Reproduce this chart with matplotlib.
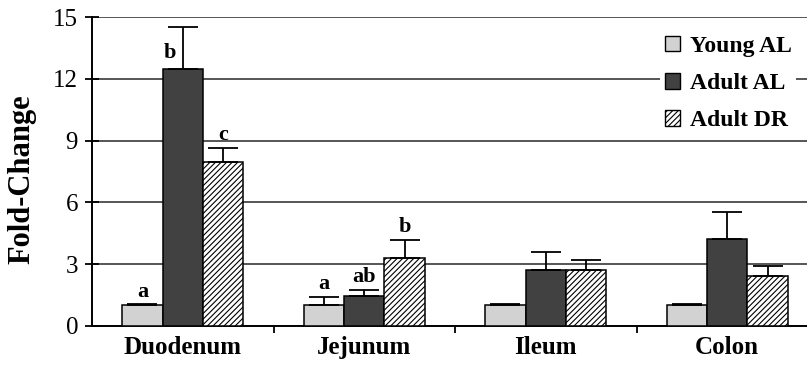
import matplotlib
matplotlib.use("Agg")
import matplotlib.pyplot as plt
import numpy as np
from matplotlib.patches import Patch

plt.rcParams['font.family'] = ['Liberation Serif', 'DejaVu Serif']
plt.rcParams['hatch.linewidth'] = 0.8
plt.rcParams['hatch.color'] = '#333333'

categories = ["Duodenum", "Jejunum", "Ileum", "Colon"]
series_names = ["Young AL", "Adult AL", "Adult DR"]
young_al = [1.0, 1.0, 1.0, 1.0]
young_al_err = [0.05, 0.4, 0.05, 0.05]
adult_al = [12.5, 1.45, 2.72, 4.2]
adult_al_err = [2.0, 0.3, 0.85, 1.35]
adult_dr = [7.95, 3.29, 2.72, 2.43]
adult_dr_err = [0.7, 0.9, 0.5, 0.5]
letters_young = ["a", "a", "", ""]
letters_adult_al = ["b", "ab", "", ""]
letters_adult_dr = ["c", "b", "", ""]
yticks = [0, 3, 6, 9, 12, 15]

fig = plt.figure(figsize=(8.07, 3.67), dpi=100)
ax = fig.add_axes([92/807, 41/367, 726/807, 309/367])

x = np.arange(len(categories))
w = 0.222
styles = [dict(color="#d2d2d2", hatch=None),
          dict(color="#414141", hatch=None),
          dict(color="white", hatch="//////")]
vals = [young_al, adult_al, adult_dr]
errs = [young_al_err, adult_al_err, adult_dr_err]
lets = [letters_young, letters_adult_al, letters_adult_dr]
ymax = 15

ax.set_axisbelow(True)
ax.yaxis.grid(True, color="#555555", linewidth=1.4)
for i in range(3):
    pos = x + (i - 1) * w
    ax.bar(pos, vals[i], width=w, color=styles[i]["color"], hatch=styles[i]["hatch"],
           edgecolor="black", linewidth=1.1, zorder=3)
    ax.errorbar(pos, vals[i], yerr=[np.zeros(4), errs[i]], fmt="none", ecolor="black",
                elinewidth=1.3, capsize=11, capthick=1.3, zorder=4)
    for j in range(4):
        if lets[i][j]:
            top = vals[i][j] + errs[i][j]
            if top > ymax - 1.0:
                # no room above the error bar: put the letter beside it
                ax.annotate(lets[i][j], (pos[j], vals[i][j]), xytext=(-9.5, 4),
                            textcoords="offset points", ha="center", va="bottom",
                            fontsize=16, fontweight="bold", zorder=5)
            else:
                ax.annotate(lets[i][j], (pos[j], top), xytext=(0, 2),
                            textcoords="offset points", ha="center", va="bottom",
                            fontsize=16, fontweight="bold", zorder=5)

ax.set_xlim(-0.5, 3.5)
ax.set_ylim(0, ymax)
ax.set_yticks(yticks)
ax.set_yticklabels([str(t) for t in yticks], fontsize=18)
ax.set_xticks(x)
ax.set_xticklabels(categories, fontsize=18, fontweight="bold")
ax.tick_params(axis="x", length=0, pad=7)
ax.set_xticks(x[:-1] + 0.5, minor=True)
ax.tick_params(axis="x", which="minor", length=5, width=1.3, direction="out")
ax.tick_params(axis="y", length=10, width=1.3, direction="inout", pad=5)
for s in ["top", "right"]:
    ax.spines[s].set_visible(False)
for s in ["left", "bottom"]:
    ax.spines[s].set_linewidth(1.4)
ax.set_ylabel("Fold-Change", fontsize=22, fontweight="bold")
ax.yaxis.set_label_coords(-0.076, 0.475)

handles = [Patch(facecolor=styles[i]["color"], hatch=styles[i]["hatch"], edgecolor="black",
                 label=series_names[i]) for i in range(3)]
leg = fig.legend(handles=handles, loc="upper left", bbox_to_anchor=(660/807, 1 - 31/367),
                 frameon=True, fancybox=False, framealpha=1, facecolor="white",
                 edgecolor="none", prop=dict(size=17, weight="bold"),
                 handlelength=0.65, handleheight=0.65, handletextpad=0.4,
                 labelspacing=0.68, borderpad=0.2, borderaxespad=0)
leg.set_zorder(10)

fig.savefig("out.png", dpi=100)
